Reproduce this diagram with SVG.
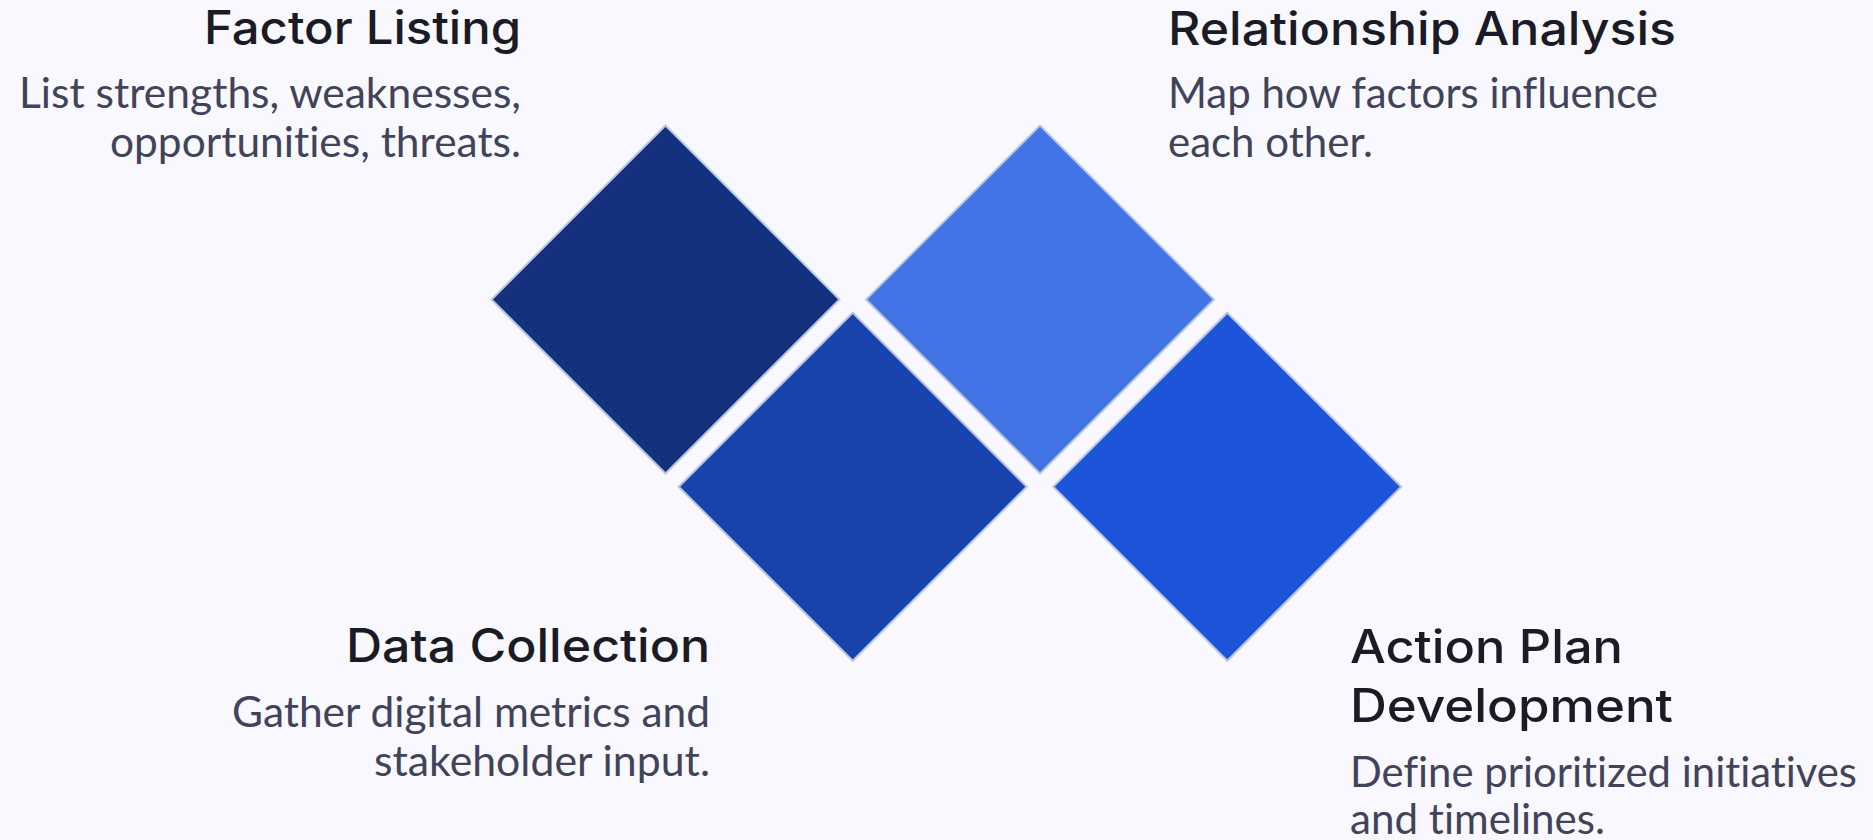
<svg xmlns="http://www.w3.org/2000/svg" width="1873" height="840" viewBox="0 0 1873 840">
<style>
.d{stroke:#b9c5e2;stroke-width:2;stroke-linejoin:miter}
.t{font-family:Inter,"Open Sans","Liberation Sans",sans-serif;font-weight:500;font-size:46px;fill:#1b1b26}
.s{font-family:Lato,"Open Sans","Liberation Sans",sans-serif;font-weight:400;font-size:42px;fill:#41435a;font-variant-ligatures:none}
.r{text-anchor:end}
</style>
<rect width="1873" height="840" fill="#f8f8fe"/>
<g id="connectors"></g>
<g id="factor-listing">
<polygon class="d" fill="#13317d" points="665.5,125.5 839.5,299.5 665.5,473.5 491.5,299.5"/>
<text class="t r" x="521" y="44" textLength="317" lengthAdjust="spacingAndGlyphs">Factor Listing</text>
<text class="s r" x="521" y="108" textLength="502" lengthAdjust="spacingAndGlyphs">List strengths, weaknesses,</text>
<text class="s r" x="521" y="157" textLength="411" lengthAdjust="spacingAndGlyphs">opportunities, threats.</text>
</g>
<g id="relationship-analysis">
<polygon class="d" fill="#4274e6" points="1040,125.5 1214,299.5 1040,473.5 866,299.5"/>
<text class="t" x="1168" y="45" textLength="508" lengthAdjust="spacingAndGlyphs">Relationship Analysis</text>
<text class="s" x="1168" y="108" textLength="490" lengthAdjust="spacingAndGlyphs">Map how factors influence</text>
<text class="s" x="1168" y="157">each other.</text>
</g>
<g id="data-collection">
<polygon class="d" fill="#1743ab" points="852.75,312.75 1026.75,486.75 852.75,660.75 678.75,486.75"/>
<text class="t r" x="710" y="662" textLength="364" lengthAdjust="spacingAndGlyphs">Data Collection</text>
<text class="s r" x="710" y="727" textLength="478" lengthAdjust="spacingAndGlyphs">Gather digital metrics and</text>
<text class="s r" x="710" y="776" textLength="336" lengthAdjust="spacingAndGlyphs">stakeholder input.</text>
</g>
<g id="action-plan-development">
<polygon class="d" fill="#1d54d9" points="1227.25,312.75 1401.25,486.75 1227.25,660.75 1053.25,486.75"/>
<text class="t" x="1350" y="663" textLength="273" lengthAdjust="spacingAndGlyphs">Action Plan</text>
<text class="t" x="1350" y="722" textLength="323" lengthAdjust="spacingAndGlyphs">Development</text>
<text class="s" x="1350" y="787" textLength="507" lengthAdjust="spacingAndGlyphs">Define prioritized initiatives</text>
<text class="s" x="1350" y="834" textLength="255" lengthAdjust="spacingAndGlyphs">and timelines.</text>
</g>
</svg>
